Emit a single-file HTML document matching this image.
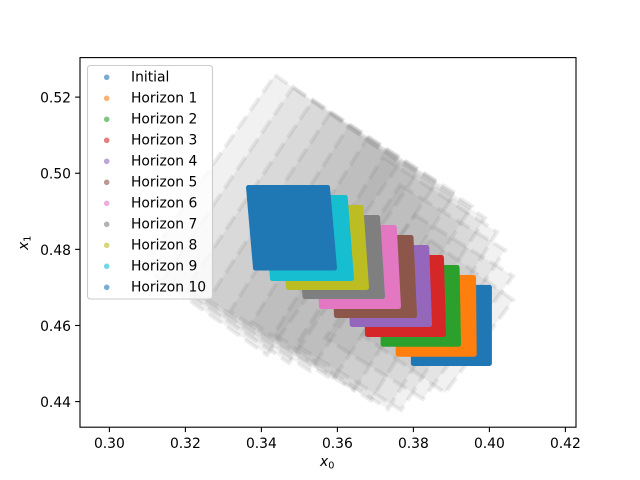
<!DOCTYPE html>
<html>
<head>
<meta charset="utf-8">
<title>Reachable sets chart</title>
<style>
html,body{margin:0;padding:0;background:#fff;width:640px;height:480px;overflow:hidden}
svg{display:block}
text{font-family:"DejaVu Sans","Liberation Sans",sans-serif;font-size:13.89px;fill:#000}
</style>
</head>
<body>
<svg id="chart" xmlns="http://www.w3.org/2000/svg" width="640" height="480" viewBox="0 0 640 480">
  <rect x="0" y="0" width="640" height="480" fill="#fff"/>
  <rect x="80" y="57.6" width="496" height="369.6" fill="#fff"/>
  <g id="tubes"></g>
  <g id="clouds"></g>
  <g id="axes"></g>
  <g id="legend"></g>
  <text x="320" y="466" font-style="italic">x<tspan font-size="9.7" font-style="normal" dy="2.5">0</tspan></text>
  <text transform="translate(28,250) rotate(-90)" font-style="italic">x<tspan font-size="9.7" font-style="normal" dy="2.5">1</tspan></text>
</svg>
<script>
var xTicks = [0.30, 0.32, 0.34, 0.36, 0.38, 0.40, 0.42];
var yTicks = [0.44, 0.46, 0.48, 0.50, 0.52];
var seriesLabels = ['Initial', 'Horizon 1', 'Horizon 2', 'Horizon 3', 'Horizon 4', 'Horizon 5', 'Horizon 6', 'Horizon 7', 'Horizon 8', 'Horizon 9', 'Horizon 10'];

var cloudLeftX = [0.38, 0.376, 0.37205, 0.36792, 0.36389, 0.35976, 0.35582, 0.35147, 0.34713, 0.34292, 0.33845];
var cloudRightX = [0.40, 0.396, 0.39187, 0.38792, 0.38424, 0.38029, 0.37608, 0.37187, 0.36766, 0.36371, 0.35924];
var cloudLean = [0, 0.00018, 0.00037, 0.00055, 0.00074, 0.00092, 0.00111, 0.00129, 0.00147, 0.00166, 0.00184];
var cloudBottomY = [0.45, 0.45245, 0.45508, 0.45763, 0.46026, 0.46262, 0.46499, 0.46761, 0.46998, 0.47234, 0.4751];
var cloudTopY = [0.47, 0.47261, 0.47523, 0.47786, 0.48049, 0.48312, 0.48574, 0.48837, 0.491, 0.49363, 0.49625];

var tubeTopX = [0.38437, 0.38042, 0.37647, 0.372, 0.36753, 0.36279, 0.35805, 0.35358, 0.34832, 0.34358];
var tubeTopY = [0.48246, 0.48903, 0.49691, 0.50427, 0.50873, 0.51215, 0.51583, 0.51924, 0.52266, 0.52581];
var tubeRightX = [0.40621, 0.40621, 0.4041, 0.402, 0.39884, 0.39542, 0.39095, 0.38621, 0.38121, 0.37647];
var tubeRightY = [0.46669, 0.473, 0.47983, 0.48456, 0.48824, 0.49139, 0.49481, 0.4977, 0.50033, 0.50269];
var tubeBottomX = [0.38832, 0.38253, 0.37674, 0.37332, 0.36884, 0.36437, 0.35884, 0.35279, 0.34726, 0.34147];
var tubeBottomY = [0.44226, 0.44068, 0.43779, 0.43803, 0.44033, 0.44296, 0.44569, 0.44805, 0.45015, 0.45226];
var tubeLeftX = [0.36647, 0.35674, 0.34911, 0.34332, 0.33753, 0.33174, 0.32595, 0.32016, 0.31437, 0.30858];
var tubeLeftY = [0.4575, 0.45671, 0.45487, 0.45774, 0.46083, 0.46372, 0.46671, 0.4696, 0.47249, 0.47538];

var seriesColors = ['#1f77b4', '#ff7f0e', '#2ca02c', '#d62728', '#9467bd', '#8c564b', '#e377c2', '#7f7f7f', '#bcbd22', '#17becf', '#1f77b4'];

var SVG_NS = 'http://www.w3.org/2000/svg';
function xScale(v) { return 109.4 + (v - 0.30) * 3800; }
function yScale(v) { return 401.6 - (v - 0.44) * 3806; }
function make(tag, attrs, parent) {
  var el = document.createElementNS(SVG_NS, tag);
  for (var k in attrs) { el.setAttribute(k, attrs[k]); }
  parent.appendChild(el);
  return el;
}
function pointList(xs, ys) {
  return xs.map(function (x, i) { return xScale(x).toFixed(2) + ',' + yScale(ys[i]).toFixed(2); }).join(' ');
}

var tubes = document.getElementById('tubes');
tubeTopX.forEach(function (_, i) {
  var xs = [tubeTopX[i], tubeRightX[i], tubeBottomX[i], tubeLeftX[i]];
  var ys = [tubeTopY[i], tubeRightY[i], tubeBottomY[i], tubeLeftY[i]];
  var fillPoly = make('polygon', { points: pointList(xs, ys), fill: '#808080', 'fill-opacity': 0.11, stroke: 'none' }, tubes);
  
  
  var edgePoly = make('polygon', { points: pointList(xs, ys), fill: 'none', stroke: '#808080', 'stroke-opacity': 0.15, 'stroke-width': 4, 'stroke-dasharray': '15.4 6.7' }, tubes);
  
  
});

var clouds = document.getElementById('clouds');
seriesLabels.forEach(function (label, i) {
  var xs = [cloudLeftX[i], cloudRightX[i], cloudRightX[i] - cloudLean[i], cloudLeftX[i] - cloudLean[i]];
  var ys = [cloudBottomY[i], cloudBottomY[i], cloudTopY[i], cloudTopY[i]];
  var cloud = make('polygon', { points: pointList(xs, ys), fill: seriesColors[i], stroke: seriesColors[i], 'stroke-width': 5, 'stroke-linejoin': 'round' }, clouds);
  
  
});

var axes = document.getElementById('axes');
var frame = make('rect', { x: 80, y: 57.6, width: 496, height: 369.6, fill: 'none', stroke: '#000', 'stroke-width': 1.1 }, axes);


xTicks.forEach(function (t) {
  var px = xScale(t);
  var tick = make('line', { x1: px, x2: px, y1: 427.2, y2: 432.1, stroke: '#000', 'stroke-width': 1.1 }, axes);
  
  
  var tx = make('text', { x: px, y: 448, 'text-anchor': 'middle' }, axes);
  
  
  tx.textContent = t.toFixed(2);
});
yTicks.forEach(function (t) {
  var py = yScale(t);
  var tick = make('line', { x1: 75.1, x2: 80, y1: py, y2: py, stroke: '#000', 'stroke-width': 1.1 }, axes);
  
  
  var tx = make('text', { x: 71, y: py + 5.5, 'text-anchor': 'end' }, axes);
  
  
  tx.textContent = t.toFixed(2);
});

var legend = document.getElementById('legend');
var box = make('rect', { x: 87.5, y: 65.5, width: 125, height: 233.5, rx: 2.8, fill: '#fff', 'fill-opacity': 0.8, stroke: '#ccc', 'stroke-width': 1.1 }, legend);


seriesLabels.forEach(function (label, i) {
  var rowY = 77.3 + i * 21;
  var dot = make('circle', { cx: 106.7, cy: rowY, r: 2.8, fill: seriesColors[i], 'fill-opacity': 0.6 }, legend);
  
  
  var tx = make('text', { x: 131, y: rowY + 4 }, legend);
  
  
  tx.textContent = label;
});
</script>
</body>
</html>
